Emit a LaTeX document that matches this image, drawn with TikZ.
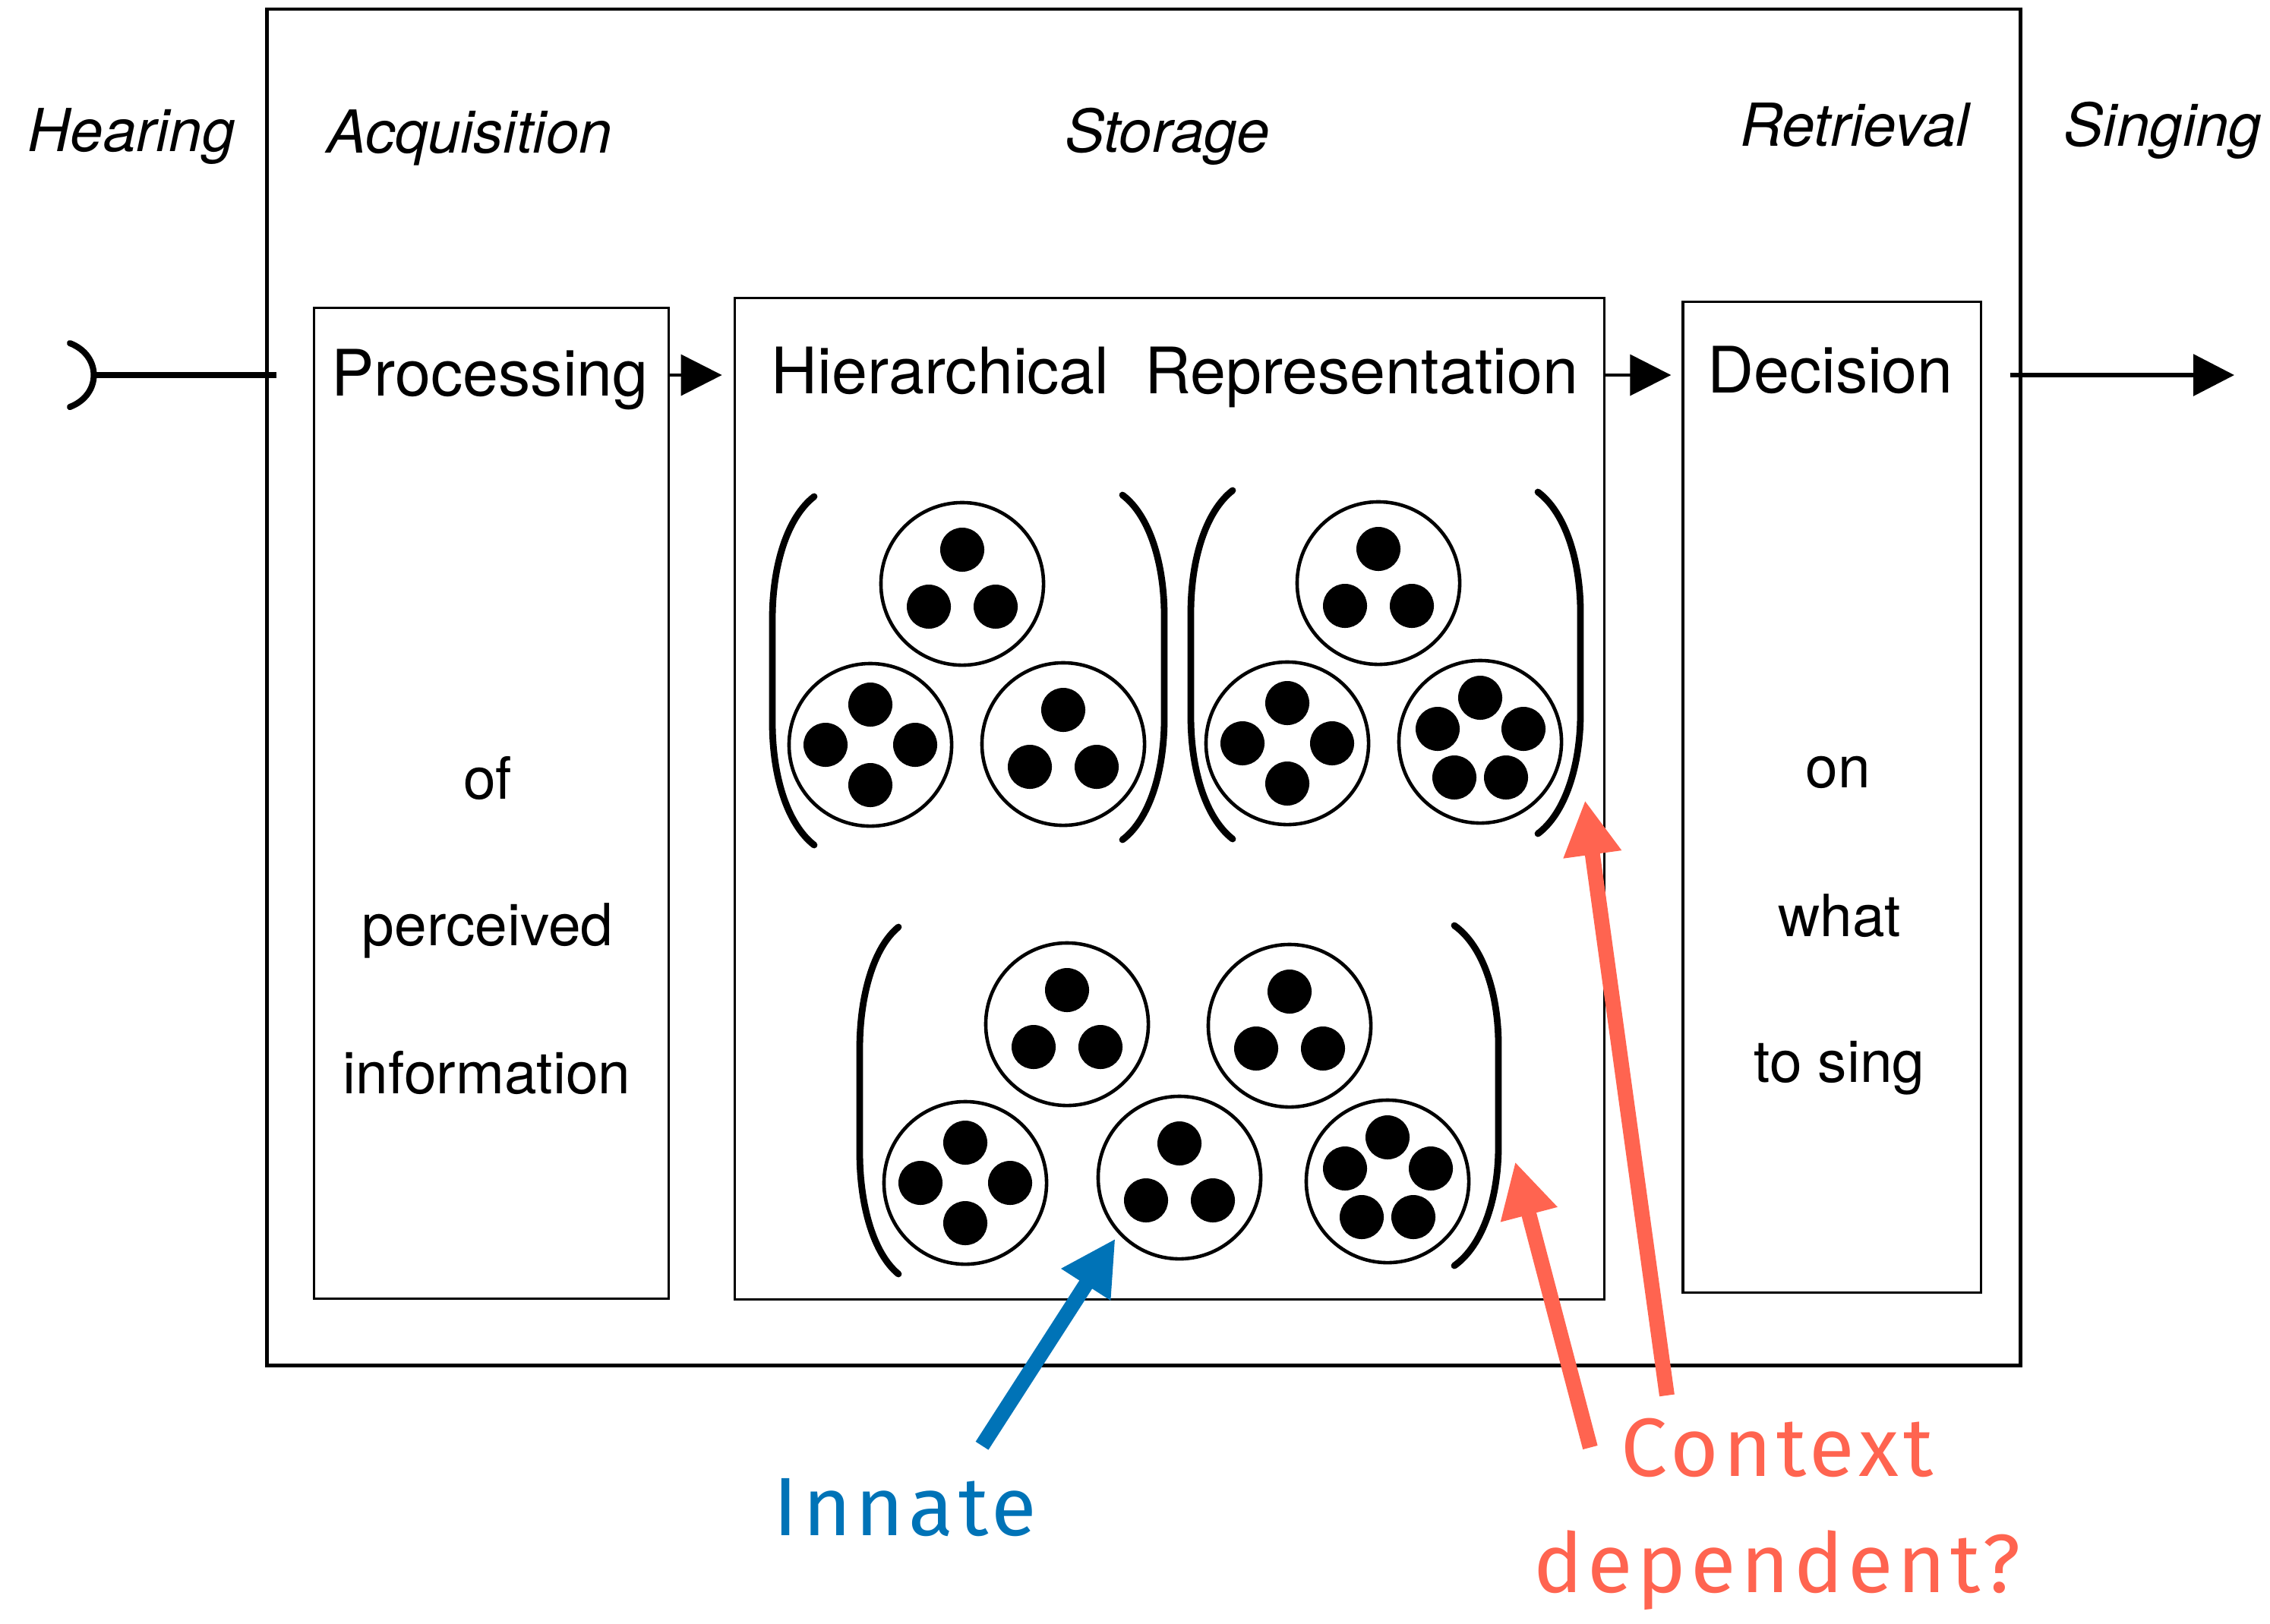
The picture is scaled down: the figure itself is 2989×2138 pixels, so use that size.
\documentclass[tikz,border=0pt]{standalone}
\usepackage{fontspec}
\setmainfont{TeX Gyre Heros}
\newfontfamily\handfont[LetterSpace=5.5]{Fira Sans}
\usepackage{tikz}
\usetikzlibrary{arrows.meta}
\definecolor{innateblue}{HTML}{0073B7}
\definecolor{contextred}{HTML}{FF6450}

\begin{document}
\begin{tikzpicture}[
    x=0.01cm, y=-0.01cm,
    box/.style={
        draw,
        line width=0.9pt,
        inner sep=0pt
    },
    head/.style={inner sep=0pt, anchor=base, font=\fontsize{24}{28}\selectfont},
    word/.style={inner sep=0pt, anchor=base, font=\fontsize{21.8}{26}\selectfont},
    stage/.style={inner sep=0pt, anchor=base, font=\itshape\fontsize{22.2}{26}\selectfont},
    note/.style={inner sep=0pt, anchor=base, font=\handfont\fontsize{31}{36}\selectfont},
    cell/.style={
        circle,
        draw,
        line width=1.3pt,
        minimum size=2.14cm,
        inner sep=0pt
    },
    brace/.style={line width=2.5pt, line cap=round},
    line/.style={
        -{Triangle[length=0.54cm,width=0.54cm]},
        line width=1pt
    },
    hint/.style={
        -{Triangle[length=0.72cm,width=0.72cm]},
        line width=0.2cm
    },
    dots3/.pic={\foreach \dx/\dy in {0/-45,-44/30,44/30} \fill (\dx,\dy) circle[radius=0.29cm];},
    dots4/.pic={\foreach \dx/\dy in {0/-53,-59/0,59/0,0/53} \fill (\dx,\dy) circle[radius=0.29cm];},
    dots5/.pic={\foreach \dx/\dy in {0/-58,-56/-17,57/-17,-34/47,34/47} \fill (\dx,\dy) circle[radius=0.29cm];}
]
\useasboundingbox (0,0) rectangle (2989,2138);

\node[box,line width=1.4pt,minimum width=23.07cm,minimum height=17.85cm] (frame) at (1506,905) {};
\node[box,minimum width=4.66cm,minimum height=13.04cm] (proc) at (647,1058) {};
\node[box,minimum width=11.45cm,minimum height=13.18cm] (store) at (1540,1052) {};
\node[box,minimum width=3.92cm,minimum height=13.04cm] (dec) at (2412,1050) {};

\node[stage] (hearing) at (173,199) {Hearing};
\node[stage] (acq) at (618,201) {Acquisition};
\node[stage] (stor) at (1537,200) {Storage};
\node[stage] (retr) at (2442,192) {Retrieval};
\node[stage] (sing) at (2848,192) {Singing};

\node[head] (proctitle) at (645,521) {Processing};
\node[head] (storetitle) at (1547,518) {Hierarchical\ \ Representation};
\node[head] (dectitle) at (2410,517) {Decision};

\node[word] (of) at (642,1052) {of};
\node[word] (perceived) at (642,1245) {perceived};
\node[word] (information) at (641,1440) {information};
\node[word] (on) at (2420,1037) {on};
\node[word] (what) at (2422,1233) {what};
\node[word] (tosing) at (2422,1425) {to sing};

\coordinate (lane) at (0,494);
\coordinate (ear) at (124,494);
\coordinate (song) at (2942,494);
\draw[line width=2.3pt,line cap=round] (92,452) .. controls (134,468) and (134,520) .. (92,536);
\draw[line width=2.1pt] (ear) -- ([xshift=0.15cm]frame.west |- lane);
\draw[line] (proc.east |- lane) -- ([xshift=-0.15cm]store.west |- lane);
\draw[line] (store.east |- lane) -- ([xshift=-0.14cm]dec.west |- lane);
\draw[line,line width=1.8pt] ([xshift=-0.16cm]frame.east |- lane) -- (song);

\node[cell] (a) at (1267,769) {};
\node[cell] (b) at (1146,981) {};
\node[cell] (c) at (1400,980) {};
\node[cell] (d) at (1815,768) {};
\node[cell] (e) at (1695,979) {};
\node[cell] (f) at (1949,977) {};
\node[cell] (g) at (1405,1349) {};
\node[cell] (h) at (1698,1351) {};
\node[cell] (i) at (1271,1558) {};
\node[cell] (j) at (1553,1551) {};
\node[cell] (k) at (1827,1556) {};
\pic at (a) {dots3};
\pic at (b) {dots4};
\pic at (c) {dots3};
\pic at (d) {dots3};
\pic at (e) {dots4};
\pic at (f) {dots5};
\pic at (g) {dots3};
\pic at (h) {dots3};
\pic at (i) {dots4};
\pic at (j) {dots3};
\pic at (k) {dots5};

\draw[brace] (1072,654) .. controls (1036,682) and (1017,746) .. (1017,815) -- (1017,952) .. controls (1017,1021) and (1036,1085) .. (1072,1113);
\draw[brace] (1478,652) .. controls (1514,679) and (1533,743) .. (1533,811) -- (1533,947) .. controls (1533,1015) and (1514,1079) .. (1478,1106);
\draw[brace] (1623,646) .. controls (1587,674) and (1568,738) .. (1568,807) -- (1568,944) .. controls (1568,1013) and (1587,1077) .. (1623,1105);
\draw[brace] (2025,648) .. controls (2061,675) and (2081,738) .. (2081,806) -- (2081,940) .. controls (2081,1008) and (2061,1071) .. (2025,1098);
\draw[brace] (1183,1221) .. controls (1150,1248) and (1132,1312) .. (1132,1381) -- (1132,1518) .. controls (1132,1587) and (1150,1651) .. (1183,1678);
\draw[brace] (1915,1219) .. controls (1953,1246) and (1973,1309) .. (1973,1376) -- (1973,1510) .. controls (1973,1577) and (1953,1640) .. (1915,1667);

\node[note,text=innateblue] (innate) at (1192,2022) {Innate};
\node[note,text=contextred] (context) at (2340,1944) {Context};
\node[note,text=contextred] (dependent) at (2340,2097) {dependent?};

\coordinate (ctxtip) at (2087,1054);
\coordinate (ctxtip2) at (1995,1530);
\draw[hint,innateblue] ([xshift=1.01cm,yshift=0.42cm]innate.north) -- ([xshift=-0.07cm,yshift=-0.03cm]j.225);
\draw[hint,contextred] ([xshift=-1.45cm,yshift=0.29cm]context.north) -- (ctxtip);
\draw[hint,contextred] ([xshift=-0.40cm]context.west) -- (ctxtip2);

\end{tikzpicture}
\end{document}
